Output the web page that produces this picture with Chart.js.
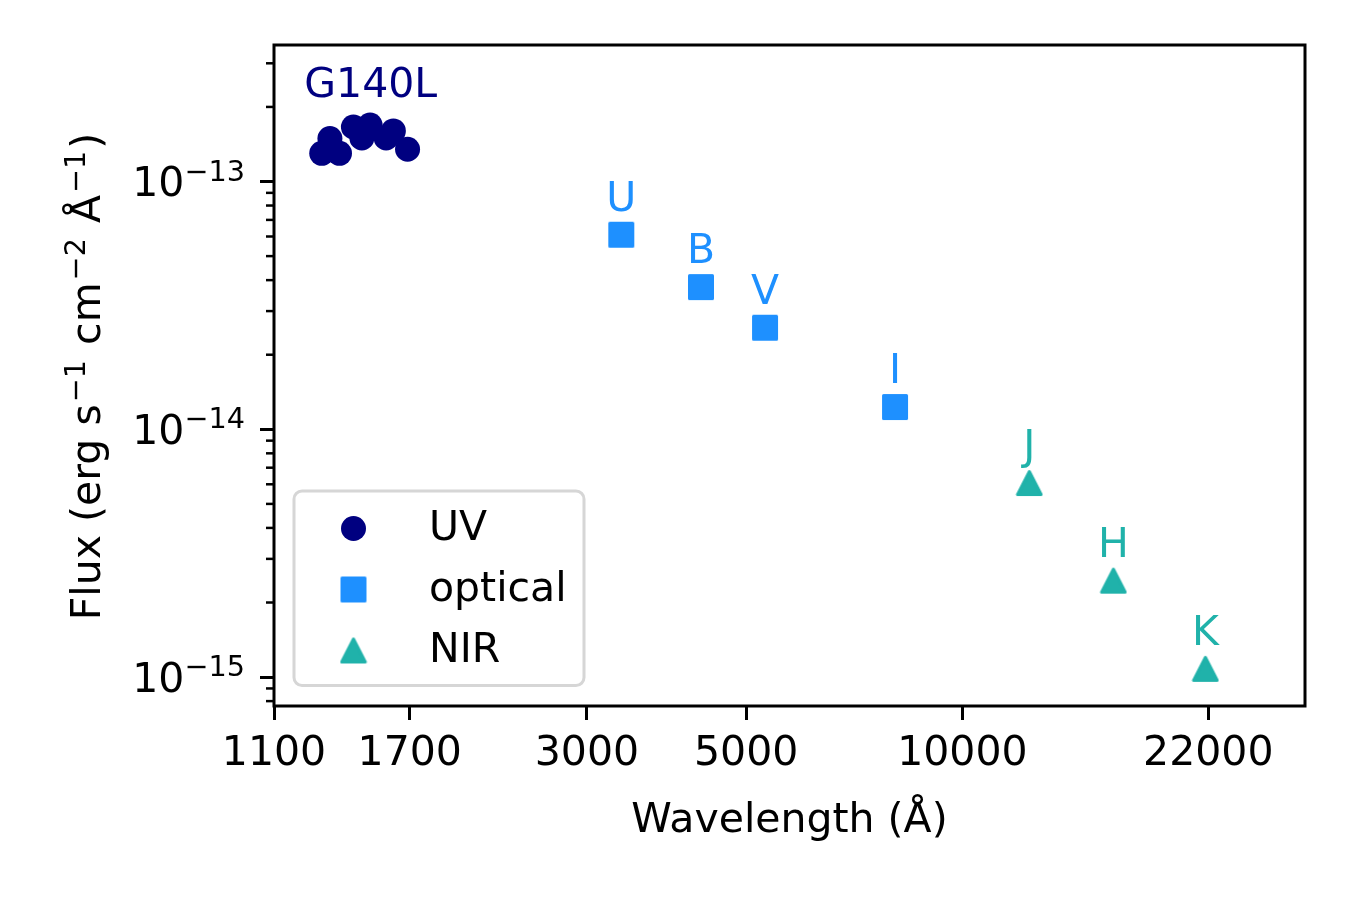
<!DOCTYPE html>
<html><head><meta charset="utf-8">
<script src="https://cdn.jsdelivr.net/npm/chart.js@4.4.1/dist/chart.umd.min.js"></script>
<style>html,body{margin:0;padding:0;background:#fff}#wrap{width:1350px;height:900px}</style>
</head><body><div id="wrap"><canvas id="c" width="1350" height="900"></canvas></div>
<script>
// ---- data ----
const uvWave = [1282, 1316, 1357, 1419, 1458, 1497, 1576, 1613, 1688];
const uvFlux = [1.30e-13, 1.49e-13, 1.30e-13, 1.66e-13, 1.50e-13, 1.69e-13, 1.50e-13, 1.60e-13, 1.35e-13];
const optBands = ['U', 'B', 'V', 'I'];
const optWave = [3350, 4325, 5311, 8058];
const optFlux = [6.10e-14, 3.75e-14, 2.57e-14, 1.23e-14];
const nirBands = ['J', 'H', 'K'];
const nirWave = [12394, 16231, 21797];
const nirFlux = [6.07e-15, 2.45e-15, 1.08e-15];
const uvLabel = 'G140L';
const uvLabelX = 1500;
const uvLabelY = 2.2e-13;
const labelFactor = 1.25;
const seriesNames = ['UV', 'optical', 'NIR'];
const xTicks = [1100, 1700, 3000, 5000, 10000, 22000];
const yTicks = [1e-15, 1e-14, 1e-13];
const yTickBase = '10';
const yTickExp = ['\u221215', '\u221214', '\u221213'];
const xRange = [1100, 30000];
const yRange = [7.645e-16, 3.556e-13];
const xTitle = 'Wavelength (\u00C5)';
// y title: [text, isSuperscript]
const yTitleParts = [['Flux (erg s', 0], ['\u22121', 1], [' cm', 0], ['\u22122', 1], [' \u00C5', 0], ['\u22121', 1], [')', 0]];

// ---- styles ----
const FONT = "'DejaVu Sans', 'Liberation Sans', sans-serif";
const FS = 41;
const cUV = '#000080', cOpt = '#1e90ff', cNIR = '#20b2aa';

function makeMarker(kind, color) {
  const c = document.createElement('canvas');
  c.width = 28; c.height = 28;
  const g = c.getContext('2d');
  g.fillStyle = color; g.strokeStyle = color; g.lineWidth = 3; g.lineJoin = 'round';
  g.beginPath();
  if (kind === 'square') { g.rect(2.5, 2.5, 23, 23); }
  else { g.moveTo(14, 2.5); g.lineTo(25.8, 25.5); g.lineTo(2.2, 25.5); g.closePath(); }
  g.fill(); g.stroke();
  return c;
}
const sqImg = makeMarker('square', cOpt);
const triImg = makeMarker('triangle', cNIR);

const pts = (xs, ys) => xs.map((v, i) => ({x: v, y: ys[i]}));

function richWidth(ctx, parts, size, gap) {
  let w = 0;
  parts.forEach(([t, s]) => { ctx.font = (s ? size * 0.7 : size) + 'px ' + FONT; w += ctx.measureText(t).width + (s ? gap : 0); });
  return w;
}
function drawRich(ctx, parts, x, y, align, size, gap) {
  gap = gap || 0;
  const w = richWidth(ctx, parts, size, gap);
  let cx = align === 'right' ? x - w : (align === 'center' ? x - w / 2 : x);
  ctx.textAlign = 'left';
  ctx.textBaseline = 'alphabetic';
  parts.forEach(([t, s]) => {
    ctx.font = (s ? size * 0.7 : size) + 'px ' + FONT;
    if (s) cx += gap / 2;
    ctx.fillText(t, cx, s ? y - size * 0.375 : y);
    cx += ctx.measureText(t).width + (s ? gap / 2 : 0);
  });
}

const labelPlugin = {
  id: 'pointText',
  afterDatasetsDraw(chart) {
    const {ctx, scales: {x, y}} = chart;
    ctx.save();
    ctx.font = FS + 'px ' + FONT;
    ctx.textAlign = 'center';
    ctx.textBaseline = 'alphabetic';
    chart.data.datasets.forEach(ds => {
      if (!ds.bandLabels) return;
      ctx.fillStyle = ds.backgroundColor;
      ds.data.forEach((p, i) => {
        ctx.fillText(ds.bandLabels[i], x.getPixelForValue(p.x), y.getPixelForValue(p.y * labelFactor));
      });
    });
    ctx.fillStyle = cUV;
    ctx.fillText(uvLabel, x.getPixelForValue(uvLabelX), y.getPixelForValue(uvLabelY));
    ctx.restore();
  }
};

const framePlugin = {
  id: 'frame',
  afterDraw(chart) {
    const {ctx, chartArea: ca, scales: {y}} = chart;
    ctx.save();
    // minor y ticks
    ctx.strokeStyle = '#000';
    ctx.lineWidth = 2.5;
    const d0 = Math.floor(Math.log10(y.min)), d1 = Math.ceil(Math.log10(y.max));
    for (let d = d0; d <= d1; d++) {
      for (let k = 2; k <= 9; k++) {
        const v = k * Math.pow(10, d);
        if (v < y.min || v > y.max) continue;
        const py = y.getPixelForValue(v);
        ctx.beginPath(); ctx.moveTo(ca.left - 8, py); ctx.lineTo(ca.left, py); ctx.stroke();
      }
    }
    // y tick labels with superscript exponents
    ctx.fillStyle = '#000';
    y.ticks.forEach((t, i) => {
      const py = y.getPixelForValue(t.value);
      drawRich(ctx, [[yTickBase, 0], [yTickExp[i], 1]], ca.left - 29, py + 14.5, 'right', FS, 0);
    });
    // y title
    ctx.save();
    ctx.translate(ca.left - 174, (ca.top + ca.bottom) / 2 + 1);
    ctx.rotate(-Math.PI / 2);
    drawRich(ctx, yTitleParts, 0, 0, 'center', FS, 4);
    ctx.restore();
    // spines
    ctx.lineWidth = 3;
    ctx.strokeStyle = '#000';
    ctx.strokeRect(ca.left, ca.top, ca.right - ca.left, ca.bottom - ca.top);

    // legend
    const bx = ca.left + 20, bw = 290, bh = 194.5, by = ca.bottom - 20.5 - bh, r = 8;
    ctx.beginPath();
    ctx.moveTo(bx + r, by);
    ctx.arcTo(bx + bw, by, bx + bw, by + bh, r);
    ctx.arcTo(bx + bw, by + bh, bx, by + bh, r);
    ctx.arcTo(bx, by + bh, bx, by, r);
    ctx.arcTo(bx, by, bx + bw, by, r);
    ctx.closePath();
    ctx.fillStyle = 'rgba(255,255,255,0.8)';
    ctx.fill();
    ctx.strokeStyle = '#d6d6d6';
    ctx.lineWidth = 3;
    ctx.stroke();
    ctx.font = FS + 'px ' + FONT;
    ctx.textAlign = 'left';
    ctx.textBaseline = 'middle';
    chart.data.datasets.forEach((ds, i) => {
      const my = by + 37.5 + i * 61, mx = bx + 59.5;
      const st = ds.pointStyle;
      if (st === 'circle') {
        ctx.fillStyle = ds.backgroundColor;
        ctx.beginPath(); ctx.arc(mx, my, ds.pointRadius, 0, Math.PI * 2); ctx.fill();
      } else {
        ctx.drawImage(st, mx - st.width / 2, my - st.height / 2);
      }
      ctx.fillStyle = '#000';
      ctx.fillText(ds.label, bx + 135, my + 0.5);
    });
    ctx.restore();
  }
};

const tickFont = {family: FONT, size: FS};
new Chart(document.getElementById('c'), {
  type: 'scatter',
  data: {
    datasets: [
      {label: seriesNames[0], data: pts(uvWave, uvFlux), backgroundColor: cUV, borderColor: cUV,
       pointStyle: 'circle', pointRadius: 12.5, pointBorderWidth: 0},
      {label: seriesNames[1], data: pts(optWave, optFlux), backgroundColor: cOpt, borderColor: cOpt,
       pointStyle: sqImg, pointRadius: 13, pointBorderWidth: 0, bandLabels: optBands},
      {label: seriesNames[2], data: pts(nirWave, nirFlux), backgroundColor: cNIR, borderColor: cNIR,
       pointStyle: triImg, pointRadius: 13, pointBorderWidth: 0, bandLabels: nirBands}
    ]
  },
  options: {
    responsive: false,
    animation: false,
    layout: {padding: {left: 0, top: 45, right: 45, bottom: 0}},
    plugins: {legend: {display: false}, tooltip: {enabled: false}},
    scales: {
      x: {
        type: 'logarithmic', min: xRange[0], max: xRange[1],
        afterBuildTicks: s => { s.ticks = xTicks.map(v => ({value: v})); },
        afterFit: s => { s.height = 194; },
        ticks: {autoSkip: false, maxRotation: 0, minRotation: 0, padding: 10, color: '#000', font: tickFont,
                callback: v => String(v)},
        grid: {drawOnChartArea: false, drawTicks: true, tickLength: 14, tickWidth: 3, tickColor: '#000'},
        border: {display: false},
        title: {display: true, text: xTitle, color: '#000', font: tickFont, padding: {top: 0, bottom: 54}}
      },
      y: {
        type: 'logarithmic', min: yRange[0], max: yRange[1],
        afterBuildTicks: s => { s.ticks = yTicks.map(v => ({value: v})); },
        afterFit: s => { s.width = 274; },
        ticks: {display: false, autoSkip: false, callback: (v, i) => yTickBase + yTickExp[i]},
        grid: {drawOnChartArea: false, drawTicks: true, tickLength: 14, tickWidth: 3, tickColor: '#000'},
        border: {display: false},
        title: {display: false}
      }
    }
  },
  plugins: [labelPlugin, framePlugin]
});
</script>
</body></html>
